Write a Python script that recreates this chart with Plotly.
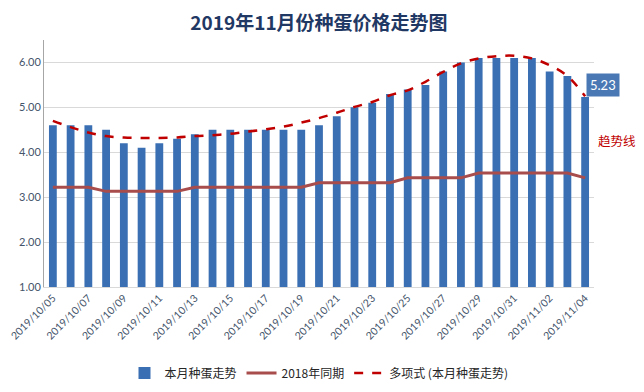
import plotly.graph_objects as go

dates = ["2019/10/%02d" % d for d in range(5, 32)] + ["2019/11/%02d" % d for d in range(1, 5)]
this_month = [4.6, 4.6, 4.6, 4.5, 4.2, 4.1, 4.2, 4.3, 4.4, 4.5, 4.5,
              4.5, 4.5, 4.5, 4.5, 4.6, 4.8, 5.0, 5.1, 5.3, 5.4, 5.5,
              5.8, 6.0, 6.1, 6.1, 6.1, 6.1, 5.8, 5.7, 5.23]
last_year = [3.22, 3.22, 3.22, 3.13, 3.13, 3.13, 3.13, 3.13,
             3.22, 3.22, 3.22, 3.22, 3.22, 3.22, 3.22,
             3.32, 3.32, 3.32, 3.32, 3.32,
             3.43, 3.43, 3.43, 3.43,
             3.54, 3.54, 3.54, 3.54, 3.54, 3.54, 3.43]
trend = [4.70, 4.56, 4.44, 4.36, 4.33, 4.32, 4.32, 4.33, 4.36, 4.38, 4.41,
         4.46, 4.51, 4.57, 4.66, 4.76, 4.88, 5.01, 5.12, 5.27, 5.38, 5.57,
         5.79, 5.98, 6.09, 6.14, 6.15, 6.09, 5.94, 5.70, 5.25]
tick_labels = dates[::2]

txt_font = "Lato, 'Noto Sans CJK SC', sans-serif"
cjk_font = "'Noto Sans CJK SC', sans-serif"

fig = go.Figure()
fig.add_trace(go.Bar(x=dates, y=this_month, name="本月种蛋走势",
                     marker=dict(color="#3a6fb3", line=dict(width=0))))
fig.add_trace(go.Scatter(x=dates, y=last_year, name="2018年同期", mode="lines",
                         line=dict(color="#a94c4c", width=3)))
fig.add_trace(go.Scatter(x=dates, y=trend, name="多项式 (本月种蛋走势)", mode="lines",
                         line=dict(color="#c00000", width=2.5, dash="dash", shape="spline")))

# page body has an 8px margin, so the figure is laid out 8px up/left of the target
fig.update_layout(
    width=628, height=376,
    margin=dict(l=36, r=42, t=32, b=97, autoexpand=False),
    paper_bgcolor="white", plot_bgcolor="white",
    bargap=0.56,
    title=dict(text="<b>2019年11月份种蛋价格走势图</b>", x=0.5, xanchor="center",
               xref="paper", y=1 - 15 / 376, yanchor="middle",
               font=dict(family=cjk_font, size=19, color="#1f3864")),
    legend=dict(orientation="h", x=0.5, xanchor="center", y=-0.348, yanchor="middle",
                font=dict(family=cjk_font, size=12, color="#262626"),
                itemwidth=30, tracegroupgap=0),
    showlegend=True,
)
fig.update_xaxes(type="category", range=[-0.5, 30.5], tickvals=tick_labels, ticktext=tick_labels,
                 tickangle=-45, tickfont=dict(family=txt_font, size=10.5, color="#44546a"),
                 showline=True, linecolor="#d9d9d9", linewidth=1, showgrid=False, ticks="",
                 automargin=False)
fig.update_yaxes(range=[1, 6.5], tick0=1, dtick=1, tickformat=".2f",
                 tickfont=dict(family=txt_font, size=11, color="#44546a"),
                 showline=True, linecolor="#a6a6a6", linewidth=1,
                 gridcolor="#d9d9d9", gridwidth=1, zeroline=False, ticks="",
                 automargin=False)

fig.add_annotation(x=(603 - 44) / 550, y=(287 - 85) / 247, xref="paper", yref="paper",
                   xanchor="center", yanchor="middle",
                   text="5.23", showarrow=False,
                   bgcolor="#4a78b5", font=dict(family=txt_font, size=13, color="white"),
                   borderpad=3)
fig.add_annotation(x=(617 - 44) / 550, y=(287 - 140) / 247, xref="paper", yref="paper",
                   xanchor="center", yanchor="middle",
                   text="趋势线", showarrow=False,
                   font=dict(family=cjk_font, size=12.5, color="#c00000"))

fig.write_html("out.html")
